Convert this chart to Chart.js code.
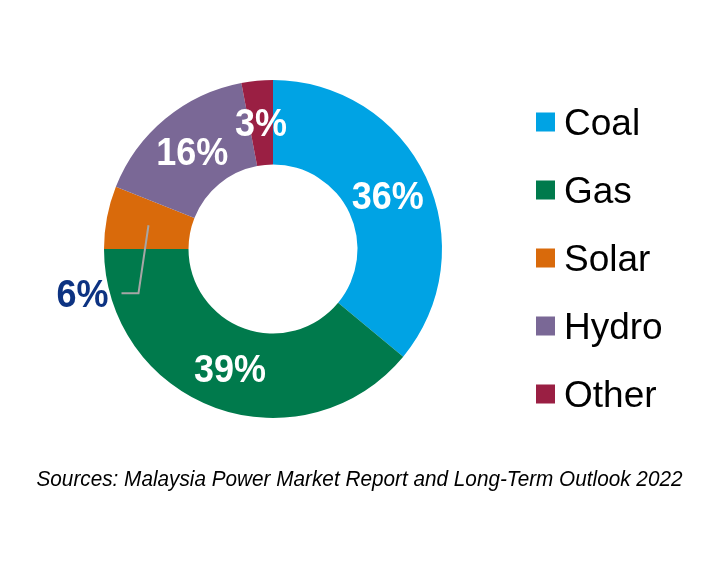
<!DOCTYPE html>
<html>
<head>
<meta charset="utf-8">
<script src="https://cdn.jsdelivr.net/npm/chart.js@4.4.0/dist/chart.umd.min.js"></script>
<style>
  body { margin: 0; background: #fff; }
  #wrap { width: 726px; height: 562px; }
</style>
</head>
<body>
<div id="wrap"><canvas id="mixChart" width="726" height="562"></canvas></div>
<script>
// data
const fuels = ['Coal', 'Gas', 'Solar', 'Hydro', 'Other'];
const shares = [36, 39, 6, 16, 3];
const fuelColors = ['#00a3e4', '#007a4c', '#d96a0b', '#7a6896', '#9a1f43'];
const sourceNote = 'Sources: Malaysia Power Market Report and Long-Term Outlook 2022';

// labels that sit outside the ring (with a leader line)
const outsideLabels = ['Solar'];

const FONT = '"Liberation Sans", Arial, sans-serif';
const LABEL_PX = 38;

// percent labels on the slices
const sliceLabels = {
    id: 'sliceLabels',
    afterDatasetsDraw(chart) {
        const ctx = chart.ctx;
        const arcs = chart.getDatasetMeta(0).data;
        ctx.save();
        ctx.font = 'bold ' + LABEL_PX + 'px ' + FONT;
        ctx.textAlign = 'center';
        ctx.textBaseline = 'alphabetic';
        const capHalf = LABEL_PX * 0.716 / 2;
        arcs.forEach((arc, i) => {
            const p = arc.getProps(['x', 'y', 'startAngle', 'endAngle', 'innerRadius', 'outerRadius'], true);
            const mid = (p.startAngle + p.endAngle) / 2;
            const r = (p.innerRadius + p.outerRadius) / 2;
            const cx = p.x + Math.cos(mid) * r;
            const cy = p.y + Math.sin(mid) * r;
            const txt = shares[i] + '%';
            // glyphs in the original are a bit narrow for their height
            const w = ctx.measureText(txt).width * 36 / LABEL_PX;
            if (outsideLabels.includes(fuels[i])) {
                // leader line: down from the slice, then left
                ctx.strokeStyle = '#a6a6a6';
                ctx.lineWidth = 2;
                ctx.beginPath();
                ctx.moveTo(cx, cy);
                ctx.lineTo(cx - 10, cy + 68);
                ctx.lineTo(cx - 27, cy + 68);
                ctx.stroke();
                ctx.fillStyle = '#0d3382';
                ctx.fillText(txt, cx - 66, cy + 68 + capHalf, w);
            } else {
                ctx.fillStyle = '#ffffff';
                ctx.fillText(txt, cx, cy + capHalf, w);
            }
        });
        ctx.restore();
    }
};

// legend on the right + source note
const sideLegend = {
    id: 'sideLegend',
    afterDraw(chart) {
        const ctx = chart.ctx;
        ctx.save();
        ctx.font = '37px ' + FONT;
        ctx.textAlign = 'left';
        ctx.textBaseline = 'alphabetic';
        fuels.forEach((name, i) => {
            const yc = 122 + i * 68;
            ctx.fillStyle = fuelColors[i];
            ctx.fillRect(536, yc - 9.5, 19, 19);
            ctx.fillStyle = '#000';
            ctx.fillText(name, 564, yc + 13);
        });
        ctx.font = 'italic 22px ' + FONT;
        ctx.textAlign = 'center';
        ctx.fillStyle = '#000';
        ctx.fillText(sourceNote, 359.5, 486, 646);
        ctx.restore();
    }
};

var mixChart = new Chart(document.getElementById('mixChart').getContext('2d'), {
    type: 'doughnut',
    data: {
        labels: fuels,
        datasets: [{
            data: shares,
            backgroundColor: fuelColors,
            borderWidth: 0,
            hoverOffset: 0,
            offset: 0
        }]
    },
    options: {
        responsive: false,
        animation: false,
        cutout: '50%',
        layout: {
            padding: { left: 104, top: 80, right: 284, bottom: 144 }
        },
        plugins: {
            legend: { display: false },
            tooltip: { enabled: false }
        }
    },
    plugins: [sliceLabels, sideLegend]
});
</script>
</body>
</html>
